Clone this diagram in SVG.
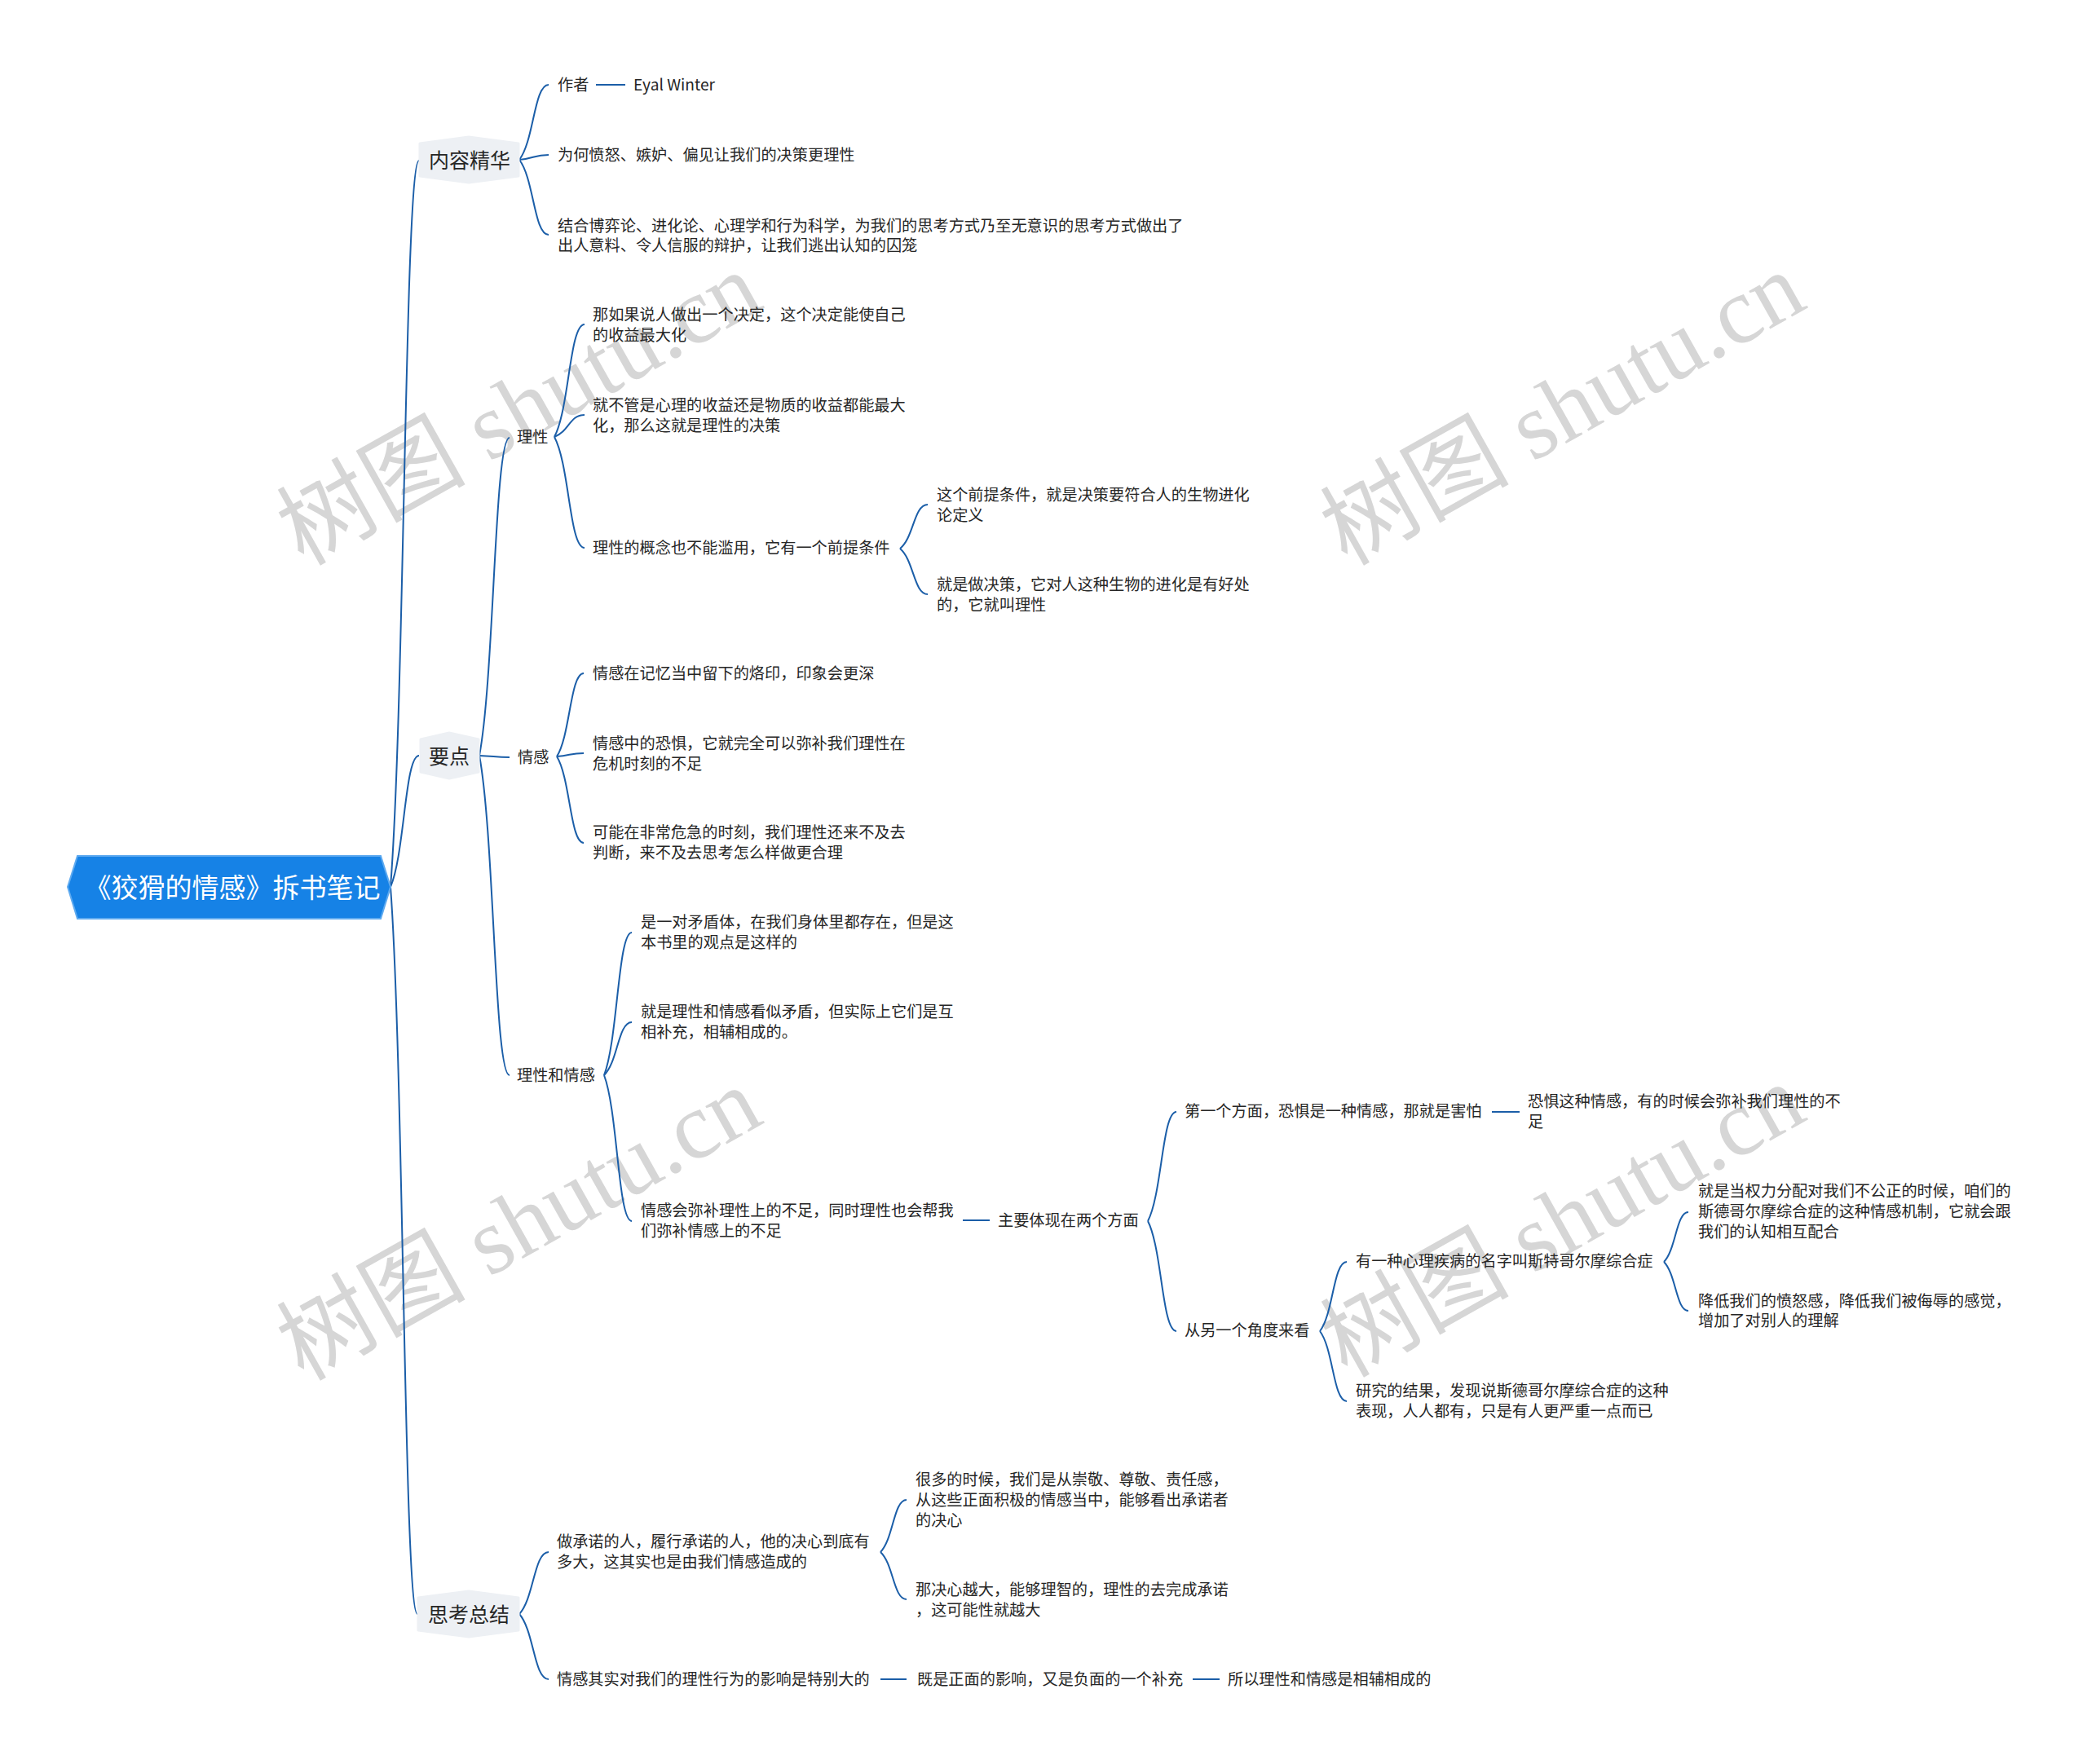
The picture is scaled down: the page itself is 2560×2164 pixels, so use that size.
<svg xmlns="http://www.w3.org/2000/svg" width="2560" height="2164" viewBox="0 0 2560 2164">
<defs>
<style>
.t{font-family:"Noto Sans CJK SC","Liberation Sans",sans-serif;font-size:19.2px;fill:#262626;dominant-baseline:central;transform:translateY(-1.5px)}
.m{font-family:"Noto Sans CJK SC","Liberation Sans",sans-serif;font-size:25px;fill:#262626;dominant-baseline:central;text-anchor:middle;transform:translateY(-1px)}
.r{font-family:"Noto Sans CJK SC","Liberation Sans",sans-serif;font-size:33px;fill:#ffffff;dominant-baseline:central;text-anchor:middle}
.hx{fill:#edf0f4;stroke:#edf0f4;stroke-width:3;stroke-linejoin:round}
.c path,.c line{fill:none;stroke:#1b5ea8;stroke-width:2}
.wm{font-family:"Liberation Serif","Noto Sans CJK SC",serif;font-size:116px;fill:#d6d6d6}
</style>
</defs>
<rect width="2560" height="2164" fill="#ffffff"/>
<g id="watermarks">
<text class="wm" transform="translate(372,695) rotate(-29.3)">树图 shutu.cn</text>
<text class="wm" transform="translate(1652,695) rotate(-29.3)">树图 shutu.cn</text>
<text class="wm" transform="translate(372,1695) rotate(-29.3)">树图 shutu.cn</text>
<text class="wm" transform="translate(1652,1691) rotate(-29.3)">树图 shutu.cn</text>
</g>
<g id="connectors" class="c">
<path d="M479 1088 C496.5 865 496.5 197 514 197"/>
<path d="M479 1088 C496.5 1048 496.5 927 514 927"/>
<path d="M479 1088 C495.5 1311 495.5 1980 512 1980"/>
<path d="M637 196 C655 173 655 104 673 104"/>
<path d="M637 196 C655 194.5 655 190 673 190"/>
<path d="M637 196 C655 219 655 288 673 288"/>
<line x1="731" y1="104" x2="767" y2="104"/>
<path d="M588 927 C606.5 829.5 606.5 537 625 537"/>
<path d="M588 927 C606.5 927.5 606.5 929 625 929"/>
<path d="M588 927 C606.5 1025 606.5 1319 625 1319"/>
<path d="M680 536 C698.5 501.5 698.5 398 717 398"/>
<path d="M680 536 C698.5 529 698.5 509 717 509"/>
<path d="M680 536 C698.5 570 698.5 672 717 672"/>
<path d="M1104 673 C1121 659.5 1121 619 1138 619"/>
<path d="M1104 673 C1121 687 1121 729 1138 729"/>
<path d="M683 928 C699.5 902.5 699.5 826 716 826"/>
<path d="M683 928 C699.5 927 699.5 924 716 924"/>
<path d="M683 928 C699.5 954.5 699.5 1034 716 1034"/>
<path d="M741 1319 C758 1275 758 1144 775 1144"/>
<path d="M741 1319 C758 1303 758 1254 775 1254"/>
<path d="M741 1319 C758 1364 758 1498 775 1498"/>
<line x1="1181" y1="1497" x2="1214" y2="1497"/>
<path d="M1408 1498 C1425.5 1464.5 1425.5 1364 1443 1364"/>
<path d="M1408 1498 C1425.5 1532 1425.5 1633 1443 1633"/>
<line x1="1830" y1="1364" x2="1864" y2="1364"/>
<path d="M1619 1633 C1635.5 1612 1635.5 1548 1652 1548"/>
<path d="M1619 1633 C1635.5 1654.5 1635.5 1719 1652 1719"/>
<path d="M2041 1548 C2056 1533 2056 1487 2071 1487"/>
<path d="M2041 1548 C2056 1563 2056 1608 2071 1608"/>
<path d="M637 1980 C655 1961 655 1904 673 1904"/>
<path d="M637 1980 C655 2000 655 2060 673 2060"/>
<path d="M1080 1904 C1096 1888 1096 1840 1112 1840"/>
<path d="M1080 1904 C1096 1918.5 1096 1962 1112 1962"/>
<line x1="1080" y1="2060" x2="1112" y2="2060"/>
<line x1="1463" y1="2060" x2="1496" y2="2060"/>
</g>
<g id="root">
<polygon points="83,1088 95,1050 467,1050 479,1088 467,1127 95,1127" fill="#1682e6" stroke="#5eaaf0" stroke-width="2"/>
<text class="r" x="285" y="1087">《狡猾的情感》拆书笔记</text>
</g>
<g id="n-neirong">
<polygon class="hx" points="575,168 636,176 636,216 575,224 515,216 515,176"/>
<text class="m" x="576" y="196">内容精华</text>
</g>
<g id="n-zuozhe"><text class="t" x="684" y="104">作者</text></g>
<g id="n-eyal"><text class="t" x="777" y="104">Eyal Winter</text></g>
<g id="n-weihe"><text class="t" x="684" y="190">为何愤怒、嫉妒、偏见让我们的决策更理性</text></g>
<g id="n-jiehe"><text class="t" x="684" y="277">结合博弈论、进化论、心理学和行为科学，为我们的思考方式乃至无意识的思考方式做出了</text><text class="t" x="684" y="301">出人意料、令人信服的辩护，让我们逃出认知的囚笼</text></g>
<g id="n-yaodian">
<polygon class="hx" points="551,899 587,907 587,947 551,955 516,947 516,907"/>
<text class="m" x="551" y="927">要点</text>
</g>
<g id="n-lixing"><text class="t" x="634" y="536">理性</text></g>
<g id="n-lx1"><text class="t" x="727" y="386">那如果说人做出一个决定，这个决定能使自己</text><text class="t" x="727" y="411">的收益最大化</text></g>
<g id="n-lx2"><text class="t" x="727" y="497">就不管是心理的收益还是物质的收益都能最大</text><text class="t" x="727" y="522">化，那么这就是理性的决策</text></g>
<g id="n-lx3"><text class="t" x="727" y="672">理性的概念也不能滥用，它有一个前提条件</text></g>
<g id="n-lx3a"><text class="t" x="1149" y="607">这个前提条件，就是决策要符合人的生物进化</text><text class="t" x="1149" y="632">论定义</text></g>
<g id="n-lx3b"><text class="t" x="1149" y="717">就是做决策，它对人这种生物的进化是有好处</text><text class="t" x="1149" y="742">的，它就叫理性</text></g>
<g id="n-qinggan"><text class="t" x="635" y="929">情感</text></g>
<g id="n-qg1"><text class="t" x="727" y="826">情感在记忆当中留下的烙印，印象会更深</text></g>
<g id="n-qg2"><text class="t" x="727" y="912">情感中的恐惧，它就完全可以弥补我们理性在</text><text class="t" x="727" y="937">危机时刻的不足</text></g>
<g id="n-qg3"><text class="t" x="727" y="1021">可能在非常危急的时刻，我们理性还来不及去</text><text class="t" x="727" y="1046">判断，来不及去思考怎么样做更合理</text></g>
<g id="n-lxqg"><text class="t" x="634" y="1319">理性和情感</text></g>
<g id="n-lq1"><text class="t" x="786" y="1131">是一对矛盾体，在我们身体里都存在，但是这</text><text class="t" x="786" y="1156">本书里的观点是这样的</text></g>
<g id="n-lq2"><text class="t" x="786" y="1241">就是理性和情感看似矛盾，但实际上它们是互</text><text class="t" x="786" y="1266">相补充，相辅相成的。</text></g>
<g id="n-lq3"><text class="t" x="786" y="1485">情感会弥补理性上的不足，同时理性也会帮我</text><text class="t" x="786" y="1510">们弥补情感上的不足</text></g>
<g id="n-zhuyao"><text class="t" x="1224" y="1497">主要体现在两个方面</text></g>
<g id="n-diyi"><text class="t" x="1453" y="1363">第一个方面，恐惧是一种情感，那就是害怕</text></g>
<g id="n-kongju"><text class="t" x="1874" y="1351">恐惧这种情感，有的时候会弥补我们理性的不</text><text class="t" x="1874" y="1376">足</text></g>
<g id="n-lingyi"><text class="t" x="1453" y="1632">从另一个角度来看</text></g>
<g id="n-jibing"><text class="t" x="1663" y="1547">有一种心理疾病的名字叫斯特哥尔摩综合症</text></g>
<g id="n-quanli"><text class="t" x="2083" y="1461">就是当权力分配对我们不公正的时候，咱们的</text><text class="t" x="2083" y="1486">斯德哥尔摩综合症的这种情感机制，它就会跟</text><text class="t" x="2083" y="1511">我们的认知相互配合</text></g>
<g id="n-jiangdi"><text class="t" x="2083" y="1596">降低我们的愤怒感，降低我们被侮辱的感觉，</text><text class="t" x="2083" y="1620">增加了对别人的理解</text></g>
<g id="n-yanjiu"><text class="t" x="1663" y="1706">研究的结果，发现说斯德哥尔摩综合症的这种</text><text class="t" x="1663" y="1731">表现，人人都有，只是有人更严重一点而已</text></g>
<g id="n-sikao">
<polygon class="hx" points="575,1952 636,1960 636,2000 575,2008 513,2000 513,1960"/>
<text class="m" x="575" y="1980">思考总结</text>
</g>
<g id="n-chengnuo"><text class="t" x="683" y="1891">做承诺的人，履行承诺的人，他的决心到底有</text><text class="t" x="683" y="1916">多大，这其实也是由我们情感造成的</text></g>
<g id="n-henduo"><text class="t" x="1123" y="1815">很多的时候，我们是从崇敬、尊敬、责任感，</text><text class="t" x="1123" y="1840">从这些正面积极的情感当中，能够看出承诺者</text><text class="t" x="1123" y="1865">的决心</text></g>
<g id="n-juexin"><text class="t" x="1123" y="1950">那决心越大，能够理智的，理性的去完成承诺</text><text class="t" x="1123" y="1975">，这可能性就越大</text></g>
<g id="n-yingxiang"><text class="t" x="683" y="2060">情感其实对我们的理性行为的影响是特别大的</text></g>
<g id="n-jishi"><text class="t" x="1125" y="2060">既是正面的影响，又是负面的一个补充</text></g>
<g id="n-suoyi"><text class="t" x="1506" y="2060">所以理性和情感是相辅相成的</text></g>
</svg>
